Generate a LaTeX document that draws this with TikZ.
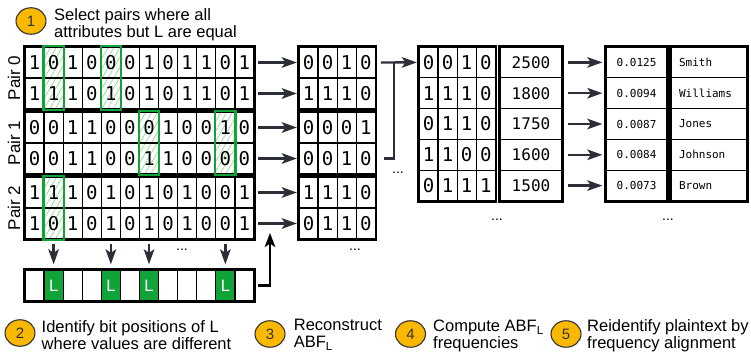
\documentclass[tikz,border=0pt]{standalone}
\usepackage{fontspec}
\setmainfont{Liberation Sans}
\newfontfamily\monof{DejaVu Sans Mono}
\usetikzlibrary{arrows.meta,patterns.meta,calc,shapes.geometric}
\pgfdeclarelayer{bg}
\pgfsetlayers{bg,main}
\definecolor{ygold}{RGB}{250,185,0}
\definecolor{lgreen}{RGB}{16,163,56}
\definecolor{hatchg}{RGB}{150,215,150}
\definecolor{darr}{RGB}{44,47,56}
\newcommand\bitrow[6][]{%
  \foreach \b [count=\c] in {#6}{%
    \node[bitcell,#1] (#2#3-\c) at ({#4+(\c-0.5)*19.08},#5) {\b};}}
\begin{document}
\begin{tikzpicture}[x=1pt,y=-1pt,
  bitcell/.style={draw, line width=1.3pt, minimum width=19.08pt, minimum height=31pt, inner sep=0pt, font=\monof\fontsize{19}{19}\selectfont},
  blockline/.style={line width=2.6pt},
  arr/.style={draw=darr, line width=2.4pt, -{Stealth[length=15pt,width=10.5pt,inset=3.5pt]}},
  blkarr/.style={draw=black, line width=2.4pt, -{Stealth[length=14pt,width=10.5pt,inset=3.5pt]}},
  pairlab/.style={rotate=90, inner sep=0pt, font=\fontsize{17}{17}\selectfont},
  dots/.style={inner sep=0pt, font=\fontsize{14}{14}\selectfont},
  colcell/.style={draw, line width=1.3pt, minimum height=30.8pt, inner sep=0pt},
  lcell/.style={draw, line width=1.3pt, minimum width=19.08pt, minimum height=31pt, inner sep=0pt, font=\fontsize{16.5}{16.5}\selectfont},
  numc/.style={ellipse, draw=black!80, fill=ygold, line width=1.1pt, minimum width=30pt, minimum height=26.5pt, inner sep=0pt, font=\fontsize{15}{15}\selectfont, text=black!80},
  txt/.style={anchor=west, align=left, inner sep=0pt, font=\fontsize{16.5}{17}\selectfont}
]
\useasboundingbox (0,0) rectangle (751,355);

% ---- left bit grid
\bitrow{b}{1}{25}{62.5}{1,0,1,0,0,0,1,0,1,1,0,1}
\bitrow{b}{2}{25}{93.5}{1,1,1,0,1,0,1,0,1,1,0,1}
\bitrow{b}{3}{25}{127.5}{0,0,1,1,0,0,0,1,0,0,1,0}
\bitrow{b}{4}{25}{158.5}{0,0,1,1,0,0,1,1,0,0,0,0}
\bitrow{b}{5}{25}{192.5}{1,1,1,0,1,0,1,0,1,0,0,1}
\bitrow{b}{6}{25}{223.5}{1,0,1,0,1,0,1,0,1,0,0,1}
\foreach \i/\j in {1/2,3/4,5/6}{\draw[blockline] (b\i-1.north west) rectangle (b\j-12.south east);}
\foreach \i/\j/\c in {1/2/2,1/2/5,3/4/7,3/4/11,5/6/2}{
  \begin{pgfonlayer}{bg}
  \fill[pattern={Lines[angle=60,distance=5pt,line width=0.7pt]}, pattern color=hatchg] (b\i-\c.north west) rectangle (b\j-\c.south east);
  \end{pgfonlayer}
  \draw[lgreen, line width=2.2pt] (b\i-\c.north west) rectangle (b\j-\c.south east);
}
\node[pairlab] (p0) at (14,78) {Pair 0};
\node[pairlab] (p1) at (14,143) {Pair 1};
\node[pairlab] (p2) at (14,208) {Pair 2};

% ---- ABF_L grid
\bitrow{s}{1}{299}{62.5}{0,0,1,0}
\bitrow{s}{2}{299}{93.5}{1,1,1,0}
\bitrow{s}{3}{299}{127.5}{0,0,0,1}
\bitrow{s}{4}{299}{158.5}{0,0,1,0}
\bitrow{s}{5}{299}{192.5}{1,1,1,0}
\bitrow{s}{6}{299}{223.5}{0,1,1,0}
\foreach \i/\j in {1/2,3/4,5/6}{\draw[blockline] (s\i-1.north west) rectangle (s\j-4.south east);}
\foreach \r in {1,...,6}{\draw[arr, shorten <=3pt, shorten >=1.5pt] (b\r-12) -- (s\r-1);}
\node[dots] (d1) at (355,250) {...};

% ---- collected grid
\bitrow[minimum height=30.8pt]{t}{1}{419}{62.4}{0,0,1,0}
\bitrow[minimum height=30.8pt]{t}{2}{419}{93.2}{1,1,1,0}
\bitrow[minimum height=30.8pt]{t}{3}{419}{124}{0,1,1,0}
\bitrow[minimum height=30.8pt]{t}{4}{419}{154.8}{1,1,0,0}
\bitrow[minimum height=30.8pt]{t}{5}{419}{185.6}{0,1,1,1}
\draw[blockline] (t1-1.north west) rectangle (t5-4.south east);
\coordinate (brA) at ($(s4-4.east)+(8,0)$);
\coordinate (brB) at ($(s1-4.east)+(18,0)$);
\draw[darr, line width=2.4pt] (brA) -| (brB);
\draw[arr, shorten <=5pt, shorten >=1.5pt] (s1-4) -- (t1-1);
\node[dots] (d2) at (398,173) {...};
\node[dots] (d3) at (497,220) {...};

% ---- counts, frequencies, names
\foreach \v [count=\r] in {2500,1800,1750,1600,1500}{
  \node[colcell, minimum width=62pt, font=\monof\fontsize{16}{16}\selectfont] (n\r) at (531,{47+(\r-0.5)*30.8}) {\v};}
\foreach \v [count=\r] in {0.0125,0.0094,0.0087,0.0084,0.0073}{
  \node[colcell, minimum width=61pt, font=\monof\fontsize{11}{11}\selectfont] (f\r) at (636.5,{47+(\r-0.5)*30.8}) {\v};}
\foreach \v [count=\r] in {Smith,Williams,Jones,Johnson,Brown}{
  \node[colcell, inner xsep=8pt, text width=60pt, align=left, font=\monof\fontsize{11}{11}\selectfont] (m\r) at (709,{47+(\r-0.5)*30.8}) {\v};}
\draw[blockline] (n1.north west) rectangle (n5.south east);
\draw[blockline] (f1.north west) rectangle (f5.south east);
\draw[blockline] (m1.north west) rectangle (m5.south east);
\foreach \r in {1,...,5}{\draw[arr, shorten <=5pt, shorten >=3pt] (n\r) -- (f\r);}
\node[dots] (d4) at (668,220) {...};

% ---- L positions row
\foreach \c in {1,3,4,6,8,9,10,12}{\node[lcell] (lc-\c) at ({25+(\c-0.5)*19.08},285.5) {};}
\foreach \c in {2,5,7,11}{\node[lcell, fill=lgreen, text=white] (lc-\c) at ({25+(\c-0.5)*19.08},285.5) {L};}
\draw[blockline] (lc-1.north west) rectangle (lc-12.south east);
\foreach \c in {2,5,7,11}{\draw[arr, shorten <=4pt, shorten >=5pt] (b6-\c) -- (lc-\c);}
\node[dots] (d5) at (182,250) {...};
\coordinate (upt) at (270,233);
\draw[blkarr, shorten <=3pt] (lc-12.east) -| (upt);

% ---- steps
\node[numc] (c1) at (31,21) {1};
\node[txt] (tx1) at (54,24.3) {Select pairs where all\\attributes but L are equal};
\node[numc] (c2) at (20,333) {2};
\node[txt] (tx2) at (41.5,335.5) {Identify bit positions of L\\where values are different};
\node[numc] (c3) at (270,334) {3};
\node[txt] (tx3) at (293.7,335) {Reconstruct\\ABF\textsubscript{L}};
\node[numc] (c4) at (410.5,334) {4};
\node[txt] (tx4) at (433,336) {Compute ABF\textsubscript{L}\\frequencies};
\node[numc] (c5) at (566,334) {5};
\node[txt] (tx5) at (587,336) {Reidentify plaintext by\\frequency alignment};
\end{tikzpicture}
\end{document}
